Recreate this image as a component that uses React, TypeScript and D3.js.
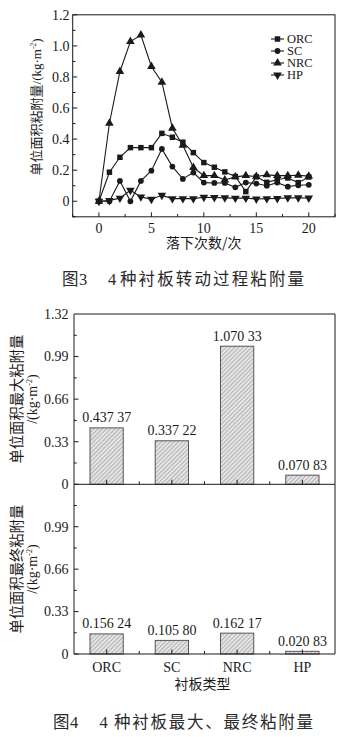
import React from "react";
import * as d3 from "d3";

// ---------- Figure 3 data ----------
const drops = [0, 1, 2, 3, 4, 5, 6, 7, 8, 9, 10, 11, 12, 13, 14, 15, 16, 17, 18, 19, 20];
const ORC = [0, 0.187, 0.283, 0.345, 0.345, 0.345, 0.437, 0.412, 0.38, 0.313, 0.249, 0.219, 0.189, 0.159, 0.062, 0.157, 0.122, 0.14, 0.15, 0.12, 0.156];
const SC = [0, 0, 0.131, 0, 0.131, 0.197, 0.337, 0.223, 0.144, 0.185, 0.12, 0.118, 0.118, 0.09, 0.12, 0.114, 0.1, 0.12, 0.094, 0.103, 0.106];
const NRC = [0, 0.502, 0.835, 1.028, 1.07, 0.867, 0.766, 0.47, 0.36, 0.217, 0.165, 0.165, 0.137, 0.157, 0.165, 0.159, 0.17, 0.165, 0.165, 0.167, 0.162];
const HP = [0, 0.005, 0.02, 0.0708, 0.028, 0.013, 0.038, 0.017, 0.017, 0.017, 0.026, 0.024, 0.022, 0.02, 0.02, 0.015, 0.017, 0.018, 0.022, 0.022, 0.021];
const seriesNames = ["ORC", "SC", "NRC", "HP"];
const xTickVals = [0, 5, 10, 15, 20];
const yTickVals1 = [0, 0.2, 0.4, 0.6, 0.8, 1.0, 1.2];
const yTickLabels1 = ["0", "0.2", "0.4", "0.6", "0.8", "1.0", "1.2"];

// ---------- Figure 4 data ----------
const types = ["ORC", "SC", "NRC", "HP"];
const maxVals = [0.43737, 0.33722, 1.07033, 0.07083];
const maxLabels = ["0.437 37", "0.337 22", "1.070 33", "0.070 83"];
const finalVals = [0.15624, 0.1058, 0.16217, 0.02083];
const finalLabels = ["0.156 24", "0.105 80", "0.162 17", "0.020 83"];
const barTicks = [0, 0.33, 0.66, 0.99, 1.32];
const barTickLabels = ["0", "0.33", "0.66", "0.99", "1.32"];

const SERIF = "'Liberation Serif', 'Times New Roman', 'Noto Sans CJK SC', serif";
const CJK = "'Noto Sans CJK SC', sans-serif";
const INK = "#1a1a1a";

const symbolFor: Record<string, any> = {
  ORC: { type: d3.symbolSquare, size: 30, rot: 0 },
  SC: { type: d3.symbolCircle, size: 26, rot: 0 },
  NRC: { type: d3.symbolTriangle, size: 32, rot: 0 },
  HP: { type: d3.symbolTriangle, size: 32, rot: 180 },
};

function Marker({ name, x, y }: { name: string; x: number; y: number }) {
  const s = symbolFor[name];
  const d = d3.symbol().type(s.type).size(s.size)() as string;
  return <path d={d} transform={`translate(${x},${y}) rotate(${s.rot})`} fill={INK} />;
}

function Fig3() {
  const left = 72.7, right = 335, top = 14.8, bottom = 216.8;
  const x = d3.scaleLinear().domain([-2.5, 22.5]).range([left, right]);
  const y = d3.scaleLinear().domain([-0.1, 1.2]).range([bottom, top]);
  const data: Record<string, number[]> = { ORC, SC, NRC, HP };
  const line = d3
    .line<number>()
    .x((_, i) => x(drops[i]))
    .y((v) => y(v));
  const xMinor = d3.range(-2.5, 22.6, 2.5);
  const yMinor = d3.range(-0.1, 1.21, 0.1);
  const legendY = [39, 51, 63, 75];
  return (
    <g>
      <rect x={left} y={top} width={right - left} height={bottom - top} fill="none" stroke={INK} strokeWidth={1} />
      {xMinor.map((v, i) => {
        const major = Math.abs(v / 5 - Math.round(v / 5)) < 1e-6;
        return <line key={"xm" + i} x1={x(v)} x2={x(v)} y1={bottom} y2={bottom - (major ? 4.5 : 2.8)} stroke={INK} />;
      })}
      {yMinor.map((v, i) => {
        const major = Math.abs(v / 0.2 - Math.round(v / 0.2)) < 1e-6;
        return <line key={"ym" + i} x1={left} x2={left + (major ? 4.5 : 2.8)} y1={y(v)} y2={y(v)} stroke={INK} />;
      })}
      {xTickVals.map((v) => (
        <text key={"xt" + v} x={x(v)} y={232.5} textAnchor="middle" fontFamily={SERIF} fontSize={14} fill={INK}>
          {v}
        </text>
      ))}
      {yTickVals1.map((v, i) => (
        <text key={"yt" + v} x={69.5} y={y(v)} dy="0.35em" textAnchor="end" fontFamily={SERIF} fontSize={14} fill={INK}>
          {yTickLabels1[i]}
        </text>
      ))}
      <text x={(left + right) / 2} y={248} textAnchor="middle" fontFamily={CJK} fontSize={14} fill={INK}>
        落下次数/次
      </text>
      <text transform={`translate(40.5,${107}) rotate(-90)`} textAnchor="middle" fontSize={13} fill={INK}>
        <tspan fontFamily={CJK}>单位面积粘附量</tspan>
        <tspan fontFamily={SERIF}>/(kg·m</tspan>
        <tspan fontFamily={SERIF} fontSize={7.5} dy={-5}>-2</tspan>
        <tspan fontFamily={SERIF} dy={5}>)</tspan>
      </text>
      {seriesNames.map((n) => (
        <path key={"l" + n} d={line(data[n]) as string} fill="none" stroke={INK} strokeWidth={1.1} />
      ))}
      {seriesNames.map((n) =>
        data[n].map((v, i) => <Marker key={n + i} name={n} x={x(drops[i])} y={y(v)} />)
      )}
      {seriesNames.map((n, i) => (
        <g key={"lg" + n}>
          <line x1={271} x2={284} y1={legendY[i]} y2={legendY[i]} stroke={INK} strokeWidth={1.1} />
          <Marker name={n} x={277.5} y={legendY[i]} />
          <text x={287} y={legendY[i]} dy="0.35em" fontFamily={SERIF} fontSize={12.5} fill={INK}>
            {n}
          </text>
        </g>
      ))}
    </g>
  );
}

function BarPanel({ vals, labels, y0, y1, showTop, title }: any) {
  const left = 74, right = 335;
  const x = d3.scaleBand<string>().domain(types).range([left, right]).paddingInner(0.49).paddingOuter(0.245);
  const y = d3.scaleLinear().domain([0, 1.32]).range([y0, y1]);
  const step = (right - left) / types.length;
  const xt = d3.range(0, types.length * 2 + 1).map((k) => left + (k * step) / 2);
  const minors = d3.range(0, 8).map((k) => 0.165 * k);
  const cx = (d: string) => (x(d) as number) + x.bandwidth() / 2;
  return (
    <g>
      {vals.map((v: number, i: number) => (
        <rect
          key={"b" + i}
          x={x(types[i])}
          y={y(v)}
          width={x.bandwidth()}
          height={y0 - y(v)}
          fill="url(#hatch)"
          stroke="#555"
          strokeWidth={1}
        />
      ))}
      {vals.map((v: number, i: number) => (
        <text key={"vl" + i} x={cx(types[i])} y={y(v) - 5.5} textAnchor="middle" fontFamily={SERIF} fontSize={14} fill={INK}>
          {labels[i]}
        </text>
      ))}
      <line x1={left} x2={right} y1={y0} y2={y0} stroke={INK} />
      <line x1={left} x2={left} y1={y0} y2={y1} stroke={INK} />
      <line x1={right} x2={right} y1={y0} y2={y1} stroke={INK} />
      {showTop && <line x1={left} x2={right} y1={y1} y2={y1} stroke={INK} />}
      {xt.slice(1, -1).map((v, i) => (
        <line key={"xt" + i} x1={v} x2={v} y1={y0} y2={y0 - (i % 2 === 0 ? 4.5 : 3)} stroke={INK} />
      ))}
      {minors.map((v, i) => (
        <line key={"ym" + i} x1={left} x2={left + (i % 2 === 0 ? 4.5 : 2.8)} y1={y(v)} y2={y(v)} stroke={INK} />
      ))}
      {barTicks.map((v, i) =>
        !showTop && i === barTicks.length - 1 ? null : (
          <text key={"yl" + i} x={68.5} y={y(v)} dy="0.35em" textAnchor="end" fontFamily={SERIF} fontSize={14} fill={INK}>
            {barTickLabels[i]}
          </text>
        )
      )}
      <text transform={`translate(21.5,${(y0 + y1) / 2}) rotate(-90)`} textAnchor="middle" fontFamily={CJK} fontSize={14.3} fill={INK}>
        {title}
      </text>
      <text transform={`translate(37,${(y0 + y1) / 2}) rotate(-90)`} textAnchor="middle" fontSize={14} fill={INK}>
        <tspan fontFamily={SERIF}>/(kg·m</tspan>
        <tspan fontFamily={SERIF} fontSize={8} dy={-5}>-2</tspan>
        <tspan fontFamily={SERIF} dy={5}>)</tspan>
      </text>
    </g>
  );
}

function Fig4() {
  const left = 74, right = 335;
  const x = d3.scaleBand<string>().domain(types).range([left, right]).paddingInner(0.49).paddingOuter(0.245);
  return (
    <g>
      <BarPanel vals={maxVals} labels={maxLabels} y0={484.3} y1={314} showTop={true} title="单位面积最大粘附量" />
      <BarPanel vals={finalVals} labels={finalLabels} y0={654} y1={484.3} showTop={false} title="单位面积最终粘附量" />
      {types.map((t) => (
        <text key={"c" + t} x={(x(t) as number) + x.bandwidth() / 2} y={672} textAnchor="middle" fontFamily={SERIF} fontSize={14} fill={INK}>
          {t}
        </text>
      ))}
      <text x={(left + right) / 2 - 2} y={688.5} textAnchor="middle" fontFamily={CJK} fontSize={14} fill={INK}>
        衬板类型
      </text>
    </g>
  );
}

export default function App() {
  return (
    <svg width={343} height={737} style={{ position: "absolute", left: 0, top: 0, background: "#fff" }}>
      <defs>
        <pattern id="hatch" width={3} height={3} patternUnits="userSpaceOnUse" patternTransform="rotate(45)">
          <rect width={3} height={3} fill="#e4e4e4" />
          <line x1={0} y1={0} x2={0} y2={3} stroke="#8a8a8a" strokeWidth={1.1} />
        </pattern>
      </defs>
      <rect width={343} height={737} fill="#fff" />
      <Fig3 />
      <text x={62} y={285} fontFamily={CJK} fontSize={16.5} fill="#2a2a2a">图</text>
      <text x={79} y={285} fontFamily={SERIF} fontSize={16.5} fill="#2a2a2a">3</text>
      <text x={108} y={285} fontFamily={SERIF} fontSize={16.5} fill="#2a2a2a">4</text>
      <text x={120} y={285} fontFamily={CJK} fontSize={16.5} fill="#2a2a2a" textLength={184} lengthAdjust="spacing">
        种衬板转动过程粘附量
      </text>
      <Fig4 />
      <text x={53} y={728} fontFamily={CJK} fontSize={16.5} fill="#2a2a2a">图</text>
      <text x={70} y={728} fontFamily={SERIF} fontSize={16.5} fill="#2a2a2a">4</text>
      <text x={99.5} y={728} fontFamily={SERIF} fontSize={16.5} fill="#2a2a2a">4</text>
      <text x={114} y={728} fontFamily={CJK} fontSize={16.5} fill="#2a2a2a" textLength={199} lengthAdjust="spacing">
        种衬板最大、最终粘附量
      </text>
    </svg>
  );
}
